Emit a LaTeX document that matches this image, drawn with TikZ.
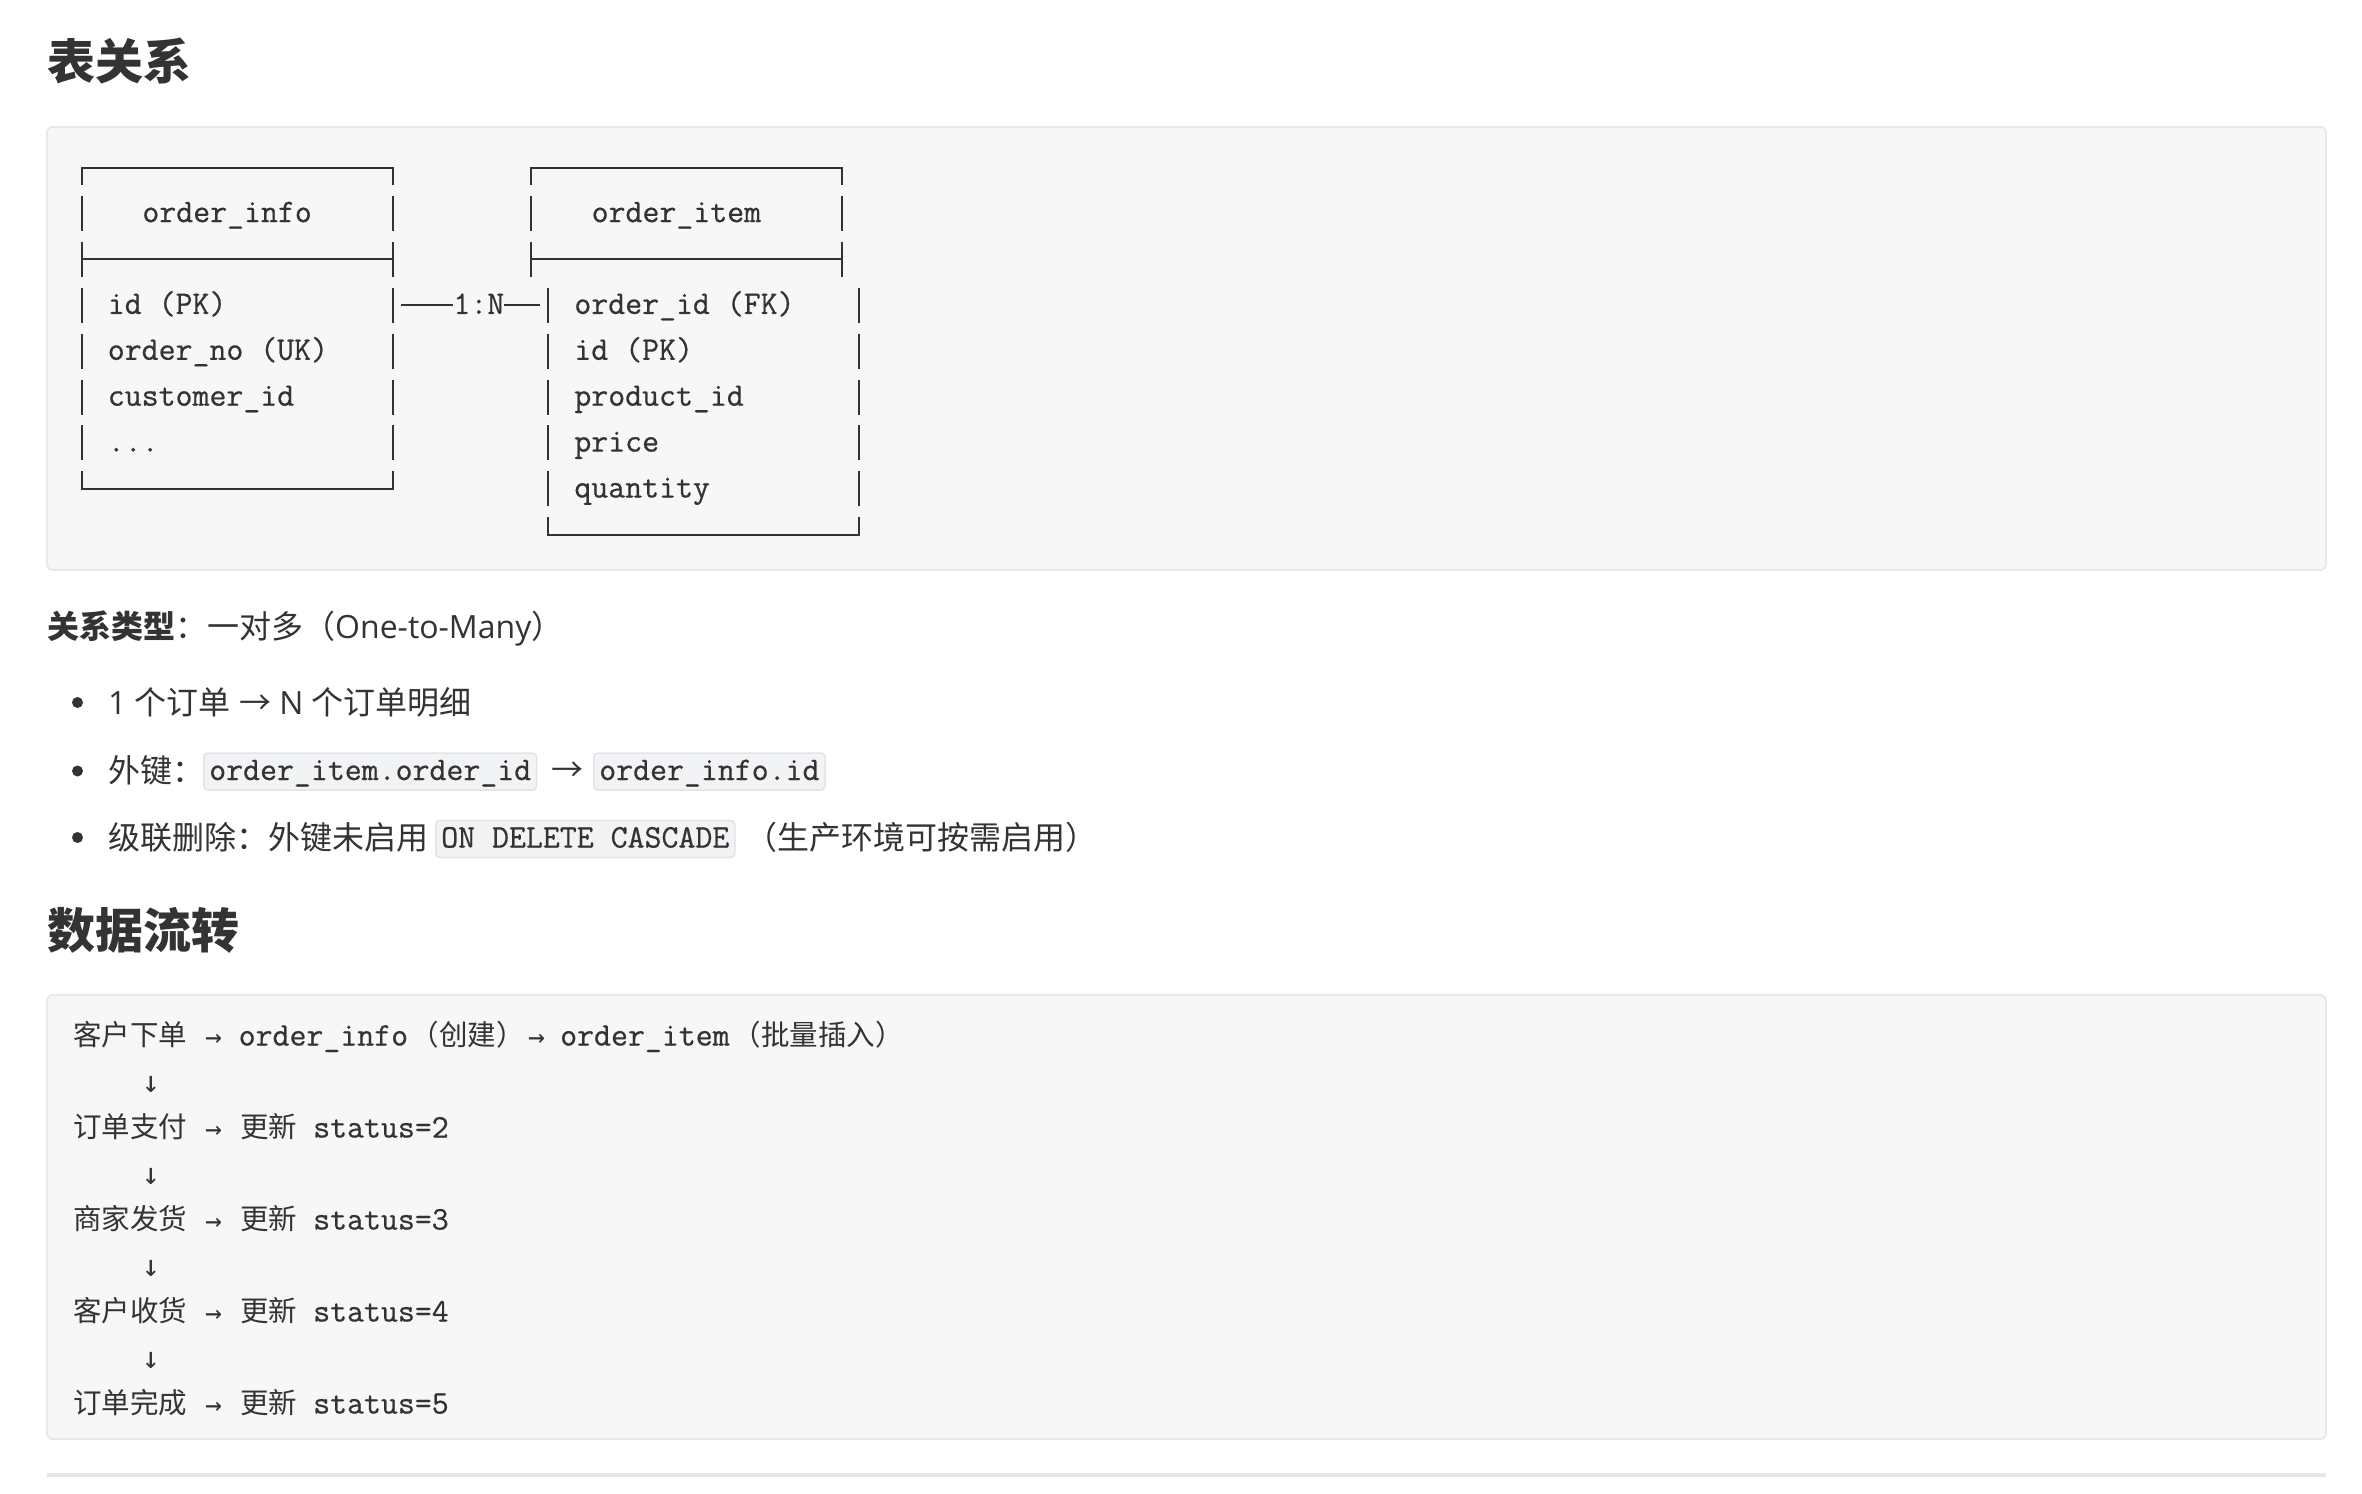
\documentclass[tikz,border=0pt]{standalone}
\usepackage{fontspec}
\setmainfont{Open Sans}
\setmonofont{Latin Modern Mono}[FakeBold=0.6]
\newfontfamily\cjk{Noto Sans CJK SC}
\newfontfamily\cjkh[RawFeature=+halt]{Noto Sans CJK SC}
\newfontfamily\arr{DejaVu Sans Mono}
\definecolor{ink}{HTML}{333333}
\definecolor{codebg}{HTML}{F7F7F7}
\definecolor{codebd}{HTML}{E6E9EC}
\definecolor{icbg}{HTML}{F2F3F4}
\definecolor{icbd}{HTML}{E1E4E8}
\definecolor{hrc}{HTML}{E7E7E7}
\def\CX#1{81.7+17.28*#1}
\def\RY#1{167.5+45.9*#1}
\tikzset{
  bx/.style={draw=ink, line width=2pt, line join=miter},
  mono/.style={font=\fontsize{32.9}{40}\selectfont\ttfamily, text=ink, inner sep=0pt, anchor=base west},
  codebox/.style={fill=codebg, draw=codebd, line width=2pt, rounded corners=6pt},
  txt/.style={font=\fontsize{32}{40}\selectfont, text=ink, inner sep=0pt, anchor=base west},
  head/.style={font=\fontsize{48}{58}\selectfont\cjk\bfseries, text=ink, inner sep=0pt, anchor=base west},
  ccjk/.style={font=\fontsize{28.5}{34}\selectfont\cjk, text=ink, inner sep=0pt, anchor=base west},
  ccjkh/.style={font=\fontsize{28.5}{34}\selectfont\cjkh, text=ink, inner sep=0pt, anchor=base west},
  carrow/.style={font=\fontsize{28}{32}\selectfont\arr, text=ink, inner sep=0pt, anchor=center},
  darrow/.style={font=\fontsize{30}{34}\selectfont\arr, text=ink, inner sep=0pt, anchor=center},
  icode/.style={fill=icbg, draw=icbd, line width=1.5pt, rounded corners=4pt,
     font=\fontsize{32.9}{40}\selectfont\ttfamily, text=ink, inner xsep=5.5pt, inner ysep=7pt,
     text height=20pt, text depth=3pt, anchor=west},
  dot/.style={circle, fill=ink, inner sep=0pt, minimum size=11pt}
}
\begin{document}
\begin{tikzpicture}[x=1pt,y=-1pt]
\useasboundingbox (0,0) rectangle (2362,1494);
\fill[white] (0,0) rectangle (2362,1494);

% ---- heading 1
\node[head] (h1) at (47,79) {表关系};

% ---- code block 1
\draw[codebox] (47,127) rectangle (2326,570);

% order_info box (cells 0..18, rows 0..7)
\draw[bx] ({\CX{0}},{\RY{0}+17}) -- ({\CX{0}},{\RY{0}}) -- ({\CX{18}},{\RY{0}}) -- ({\CX{18}},{\RY{0}+17});
\foreach \k in {1,2,3,4,5,6}{
  \draw[bx] ({\CX{0}},{\RY{\k}-17.5}) -- ({\CX{0}},{\RY{\k}+17.5});
  \draw[bx] ({\CX{18}},{\RY{\k}-17.5}) -- ({\CX{18}},{\RY{\k}+17.5});
}
\draw[bx] ({\CX{0}},{\RY{2}}) -- ({\CX{18}},{\RY{2}});
\draw[bx] ({\CX{0}},{\RY{7}-17.5}) -- ({\CX{0}},{\RY{7}}) -- ({\CX{18}},{\RY{7}}) -- ({\CX{18}},{\RY{7}-17.5});

% order_item header (cells 26..44, rows 0..2)
\draw[bx] ({\CX{26}},{\RY{0}+17}) -- ({\CX{26}},{\RY{0}}) -- ({\CX{44}},{\RY{0}}) -- ({\CX{44}},{\RY{0}+17});
\foreach \k in {1,2}{
  \draw[bx] ({\CX{26}},{\RY{\k}-17.5}) -- ({\CX{26}},{\RY{\k}+17.5});
  \draw[bx] ({\CX{44}},{\RY{\k}-17.5}) -- ({\CX{44}},{\RY{\k}+17.5});
}
\draw[bx] ({\CX{26}},{\RY{2}}) -- ({\CX{44}},{\RY{2}});
% order_item body (cells 27..45, rows 3..8)
\foreach \k in {3,4,5,6,7}{
  \draw[bx] ({\CX{27}},{\RY{\k}-17.5}) -- ({\CX{27}},{\RY{\k}+17.5});
  \draw[bx] ({\CX{45}},{\RY{\k}-17.5}) -- ({\CX{45}},{\RY{\k}+17.5});
}
\draw[bx] ({\CX{27}},{\RY{8}-17.5}) -- ({\CX{27}},{\RY{8}}) -- ({\CX{45}},{\RY{8}}) -- ({\CX{45}},{\RY{8}-17.5});

% texts
\node[mono] (oi) at ({\CX{4}-8.64},{\RY{1}+8.7}) {order\_info};
\node[mono] (oi1) at ({\CX{2}-8.64},{\RY{3}+8.7}) {id (PK)};
\node[mono] (oi2) at ({\CX{2}-8.64},{\RY{4}+8.7}) {order\_no (UK)};
\node[mono] (oi3) at ({\CX{2}-8.64},{\RY{5}+8.7}) {customer\_id};
\node[mono] (oi4) at ({\CX{2}-8.64},{\RY{6}+8.7}) {...};
\node[mono] (it) at ({\CX{30}-8.64},{\RY{1}+8.7}) {order\_item};
\node[mono] (it1) at ({\CX{29}-8.64},{\RY{3}+8.7}) {order\_id (FK)};
\node[mono] (it2) at ({\CX{29}-8.64},{\RY{4}+8.7}) {id (PK)};
\node[mono] (it3) at ({\CX{29}-8.64},{\RY{5}+8.7}) {product\_id};
\node[mono] (it4) at ({\CX{29}-8.64},{\RY{6}+8.7}) {price};
\node[mono] (it5) at ({\CX{29}-8.64},{\RY{7}+8.7}) {quantity};

% relation connector
\node[mono] (rel) at ({\CX{22}-8.64},{\RY{3}+8.7}) {1:N};
\coordinate (oiR) at ({\CX{18}+8.64},{\RY{3}});
\coordinate (itL) at ({\CX{27}-8.64},{\RY{3}});
\draw[bx] (oiR) -- (oiR -| rel.west);
\draw[bx] (oiR -| rel.east) -- (itL);

% ---- paragraph
\node[txt] (p) at (47,638) {{\cjk\bfseries 关系类型}{\cjk ：一对多（}One-to-Many{\cjk ）}};

% ---- bullets
\node[dot] (b1) at (77.5,702.5) {};
\node[dot] (b2) at (77.5,771) {};
\node[dot] (b3) at (77.5,837.5) {};
\node[txt] (l1) at (108,714) {1 {\cjk 个订单} {\cjk →} N {\cjk 个订单明细}};
\node[txt] (l2) at (108,782) {\cjk 外键：};
\node[icode] (c1) at (203,771.5) {order\_item.order\_id};
\node[font=\fontsize{32}{40}\selectfont\cjk, text=ink, inner sep=0pt, anchor=center] (a2) at (567,771.5) {→};
\node[icode] (c2) at (593,771.5) {order\_info.id};
\node[txt] (l3) at (108,849) {\cjk 级联删除：外键未启用};
\node[icode] (c3) at (435,839) {ON DELETE CASCADE};
\node[txt] (l3b) at (745,849) {\cjk （生产环境可按需启用）};

% ---- heading 2
\node[head] (h2) at (47,948) {数据流转};

% ---- code block 2
\draw[codebox] (47,995) rectangle (2326,1439);
\node[ccjk] (f1a) at (73,1045.5) {客户下单};
\node[carrow] (f1b) at (213.5,1040) {→};
\node[mono] (f1c) at (238.5,1045.5) {order\_info};
\node[ccjkh] (f1d) at (425,1045.5) {（创建）};
\node[carrow] (f1e) at (536.5,1040) {→};
\node[mono] (f1f) at (560,1045.5) {order\_item};
\node[ccjkh] (f1g) at (747,1045.5) {（批量插入）};

\foreach \i/\yy/\lab/\st in {2/1127/订单支付/2, 3/1219/商家发货/3, 4/1311/客户收货/4, 5/1403/订单完成/5}{
  \node[ccjk] (f\i a) at (73,\yy+10.5) {\lab};
  \node[carrow] (f\i b) at (213.5,\yy+5) {→};
  \node[ccjk] (f\i c) at (240,\yy+10.5) {更新};
  \node[mono] (f\i d) at (313,\yy+10.5) {status=\st};
}
\foreach \j/\yy in {1/1081, 2/1173, 3/1265, 4/1357}{
  \node[darrow] (d\j) at (151,\yy+3) {↓};
}

% ---- horizontal rule
\fill[hrc] (47,1473) rectangle (2326,1477);
\end{tikzpicture}
\end{document}
